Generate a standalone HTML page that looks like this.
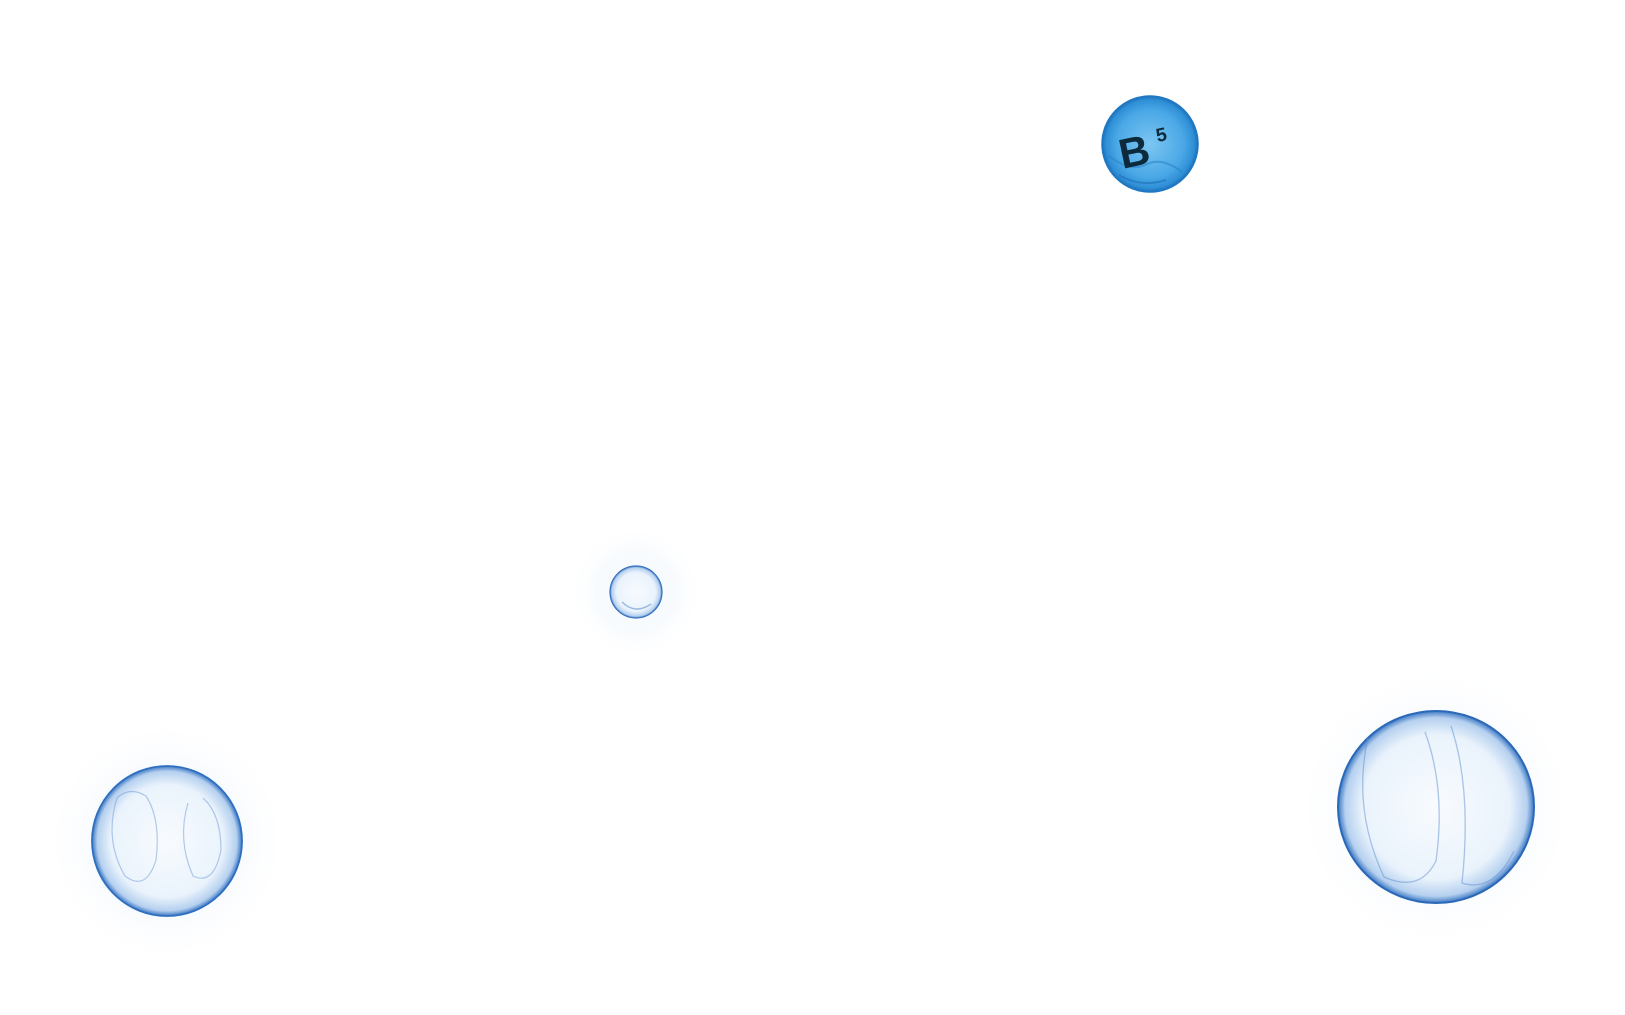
<!DOCTYPE html>
<html><head><meta charset="utf-8"><style>
html,body{margin:0;padding:0;background:#fff;width:1625px;height:1015px;overflow:hidden}
</style></head><body>
<svg width="1625" height="1015" viewBox="0 0 1625 1015" xmlns="http://www.w3.org/2000/svg">
<defs>
<radialGradient id="b5" cx="50%" cy="50%" r="50%">
<stop offset="0%" stop-color="#7cc6f2"/><stop offset="70%" stop-color="#4aa8e6"/><stop offset="92%" stop-color="#2f8fd6"/><stop offset="100%" stop-color="#1b6fb8"/>
</radialGradient>
<radialGradient id="clear" cx="50%" cy="50%" r="50%">
<stop offset="0%" stop-color="#f8fbfe"/><stop offset="75%" stop-color="#eaf3fc"/><stop offset="93%" stop-color="#b5d0ef"/><stop offset="100%" stop-color="#3d78c4"/>
</radialGradient>
<radialGradient id="glow" cx="50%" cy="50%" r="50%">
<stop offset="60%" stop-color="#f1f7fd" stop-opacity="0.5"/><stop offset="100%" stop-color="#ffffff" stop-opacity="0"/>
</radialGradient>
</defs>
<g transform="translate(-3,-2)">
<circle cx="639" cy="594" r="68" fill="url(#glow)"/>
<circle cx="639" cy="594" r="26" fill="url(#clear)" stroke="#3a73be" stroke-width="1.2"/>
<path d="M625 604 Q638 617 654 606" fill="none" stroke="#4a7fc6" stroke-width="1.5" opacity="0.5"/>
</g>
<g transform="translate(0,-4)">
<circle cx="167" cy="845" r="125" fill="url(#glow)"/>
<circle cx="167" cy="845" r="75" fill="url(#clear)" stroke="#2e6fc0" stroke-width="1.8"/>
<path d="M117 802 Q104 844 125 880 Q146 896 156 864 Q161 823 146 800 Q130 790 117 802" fill="none" stroke="#6d9ad6" stroke-width="1.2" opacity="0.5"/>
<path d="M188 807 Q177 844 193 880 Q214 890 221 854 Q221 818 203 802" fill="none" stroke="#6d9ad6" stroke-width="1.2" opacity="0.5"/>
</g>
<g transform="translate(-7,-3)">
<circle cx="1443" cy="810" r="145" fill="url(#glow)"/>
<ellipse cx="1443" cy="810" rx="98" ry="96" fill="url(#clear)" stroke="#2a68b8" stroke-width="2"/>
<path d="M1375 740 Q1359 812 1391 880 Q1427 896 1443 864 Q1453 792 1432 735" fill="none" stroke="#5f8fd1" stroke-width="1.3" opacity="0.5"/>
<path d="M1458 729 Q1479 792 1469 886 Q1500 896 1521 854" fill="none" stroke="#5f8fd1" stroke-width="1.3" opacity="0.5"/>
</g>
<g transform="translate(-5,0)">
<circle cx="1155" cy="144" r="48" fill="url(#b5)" stroke="#1f78c4" stroke-width="1.5"/>
<path d="M1114 156 Q1135 172 1150 165 Q1166 156 1187 172" fill="none" stroke="#2a85cc" stroke-width="2" opacity="0.6"/>
<path d="M1124 175 Q1145 188 1171 180" fill="none" stroke="#1f70b5" stroke-width="2" opacity="0.6"/>
<text x="1124" y="165" font-family="Liberation Sans, sans-serif" font-weight="bold" font-size="42" fill="#0d2a3d" transform="rotate(-12 1145 151)">B</text>
<text x="1164" y="146" font-family="Liberation Sans, sans-serif" font-weight="bold" font-size="19" fill="#0d2a3d" transform="rotate(-12 1145 151)">5</text>
</g>
</svg>
</body></html>
